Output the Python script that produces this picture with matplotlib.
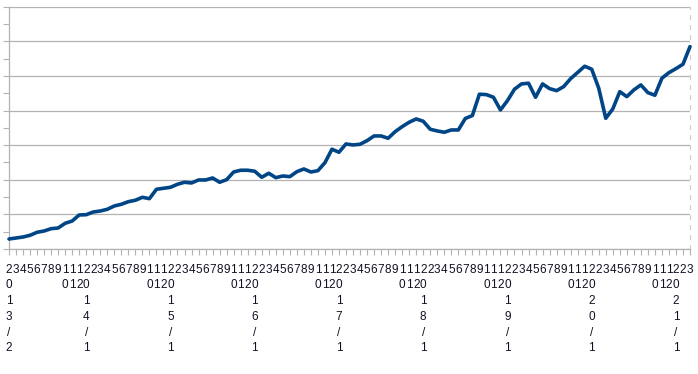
import matplotlib
matplotlib.use("Agg")
import matplotlib.pyplot as plt
from matplotlib.ticker import MultipleLocator

# ---- data -------------------------------------------------------------
start_year = 2013
start_month = 2
values = [
    28.9, 31.8, 34.7, 39.6, 48.3, 52.0, 58.7, 60.7, 74.3, 80.9,
    98.3, 99.1, 106.9, 109.8, 114.7, 124.3, 129.2, 136.7, 140.8, 149.4,
    145.4, 172.5, 175.4, 178.3, 187.0, 192.8, 190.8, 199.4, 199.4, 205.2,
    192.8, 200.3, 222.5, 227.5, 227.5, 224.6, 207.2, 218.8, 206.1, 211.0,
    209.0, 223.4, 231.2, 222.5, 226.3, 249.4, 288.2, 279.5, 303.5, 300.6,
    302.6, 313.0, 326.6, 326.6, 319.9, 339.0, 353.5, 366.2, 375.7, 369.1,
    345.9, 341.0, 337.3, 343.9, 343.9, 377.2, 385.5, 447.1, 446.0, 438.4,
    401.7, 428.6, 461.6, 476.9, 478.9, 438.4, 476.9, 463.3, 457.5, 469.1,
    492.2, 510.1, 528.0, 519.4, 464.5, 377.7, 404.6, 454.6, 440.2, 459.5,
    474.0, 451.7, 444.2, 493.4, 509.5, 521.1, 533.8, 584.7,
]

# category labels (year shown on first point and each January)
labels = []
y, m = start_year, start_month
for i in range(len(values)):
    if i == 0 or m == 1:
        lab = f"{y}/{m}"
    else:
        lab = f"{m}"
    labels.append(lab)
    m += 1
    if m > 12:
        m = 1
        y += 1

# ---- figure -----------------------------------------------------------
plt.rcParams['font.family'] = ['Liberation Sans', 'DejaVu Sans']
fig = plt.figure(figsize=(6.98, 3.74), dpi=100)
ax = fig.add_axes([9/698, 1 - 249/374, (690 - 9)/698, (249 - 6.7)/374])

grid_c = "#b3b3b3"
x = list(range(len(values)))
ax.plot(x, values, color="#004586", linewidth=2.6, solid_joinstyle="round",
        solid_capstyle="round", zorder=3, clip_on=False)

ax.set_xlim(0, len(values) - 1)
ax.set_ylim(0, 700)
ax.yaxis.set_major_locator(MultipleLocator(100))
ax.yaxis.set_minor_locator(MultipleLocator(50))
ax.grid(axis="y", which="major", color=grid_c, linewidth=0.9)
ax.set_axisbelow(True)

ax.set_xticks(x)
ax.set_xticklabels(["\n".join(l) for l in labels], fontsize=8.5,
                   linespacing=1.42, color="#111122")
ax.tick_params(axis="x", length=4.5, width=0.8, color=grid_c, pad=6)
ax.tick_params(axis="y", which="both", length=4.5, width=0.8, color=grid_c,
               labelleft=False)

for s in ["left", "bottom"]:
    ax.spines[s].set_color(grid_c)
    ax.spines[s].set_linewidth(0.9)
ax.spines["top"].set_visible(False)
ax.spines["right"].set_color("#d0d0d0")
ax.spines["right"].set_linestyle((0, (3, 5)))
ax.spines["right"].set_linewidth(0.9)

fig.savefig("out.png", dpi=100)
